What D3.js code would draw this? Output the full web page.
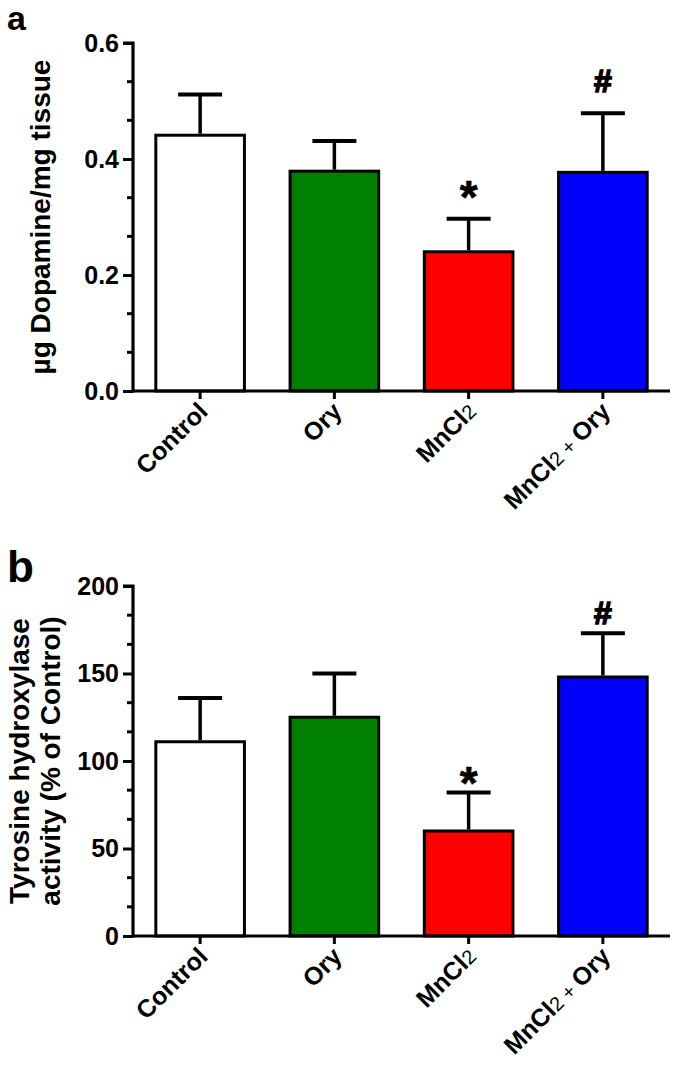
<!DOCTYPE html>
<html><head><meta charset="utf-8">
<script src="https://cdn.jsdelivr.net/npm/d3@7"></script>
<style>body{margin:0;background:#fff}svg{display:block}text{font-family:"Liberation Sans",Arial,sans-serif;font-weight:bold}</style>
</head><body>
<svg id="chart" width="685" height="1071"></svg>
<script>
const categories = ["Control", "Ory", "MnCl2", "MnCl2 + Ory"];
const colors = ["#ffffff", "#008000", "#ff0000", "#0000ff"];
const dopamineMean = [0.441, 0.379, 0.240, 0.377];
const dopamineSE = [0.070, 0.052, 0.057, 0.102];
const dopamineMarks = ["", "", "*", "#"];
const dopamineTicks = [0.0, 0.2, 0.4, 0.6];
const thMean = [111, 125, 60, 148];
const thSE = [25, 25, 22, 25];
const thMarks = ["", "", "*", "#"];
const thTicks = [0, 50, 100, 150, 200];

const svg = d3.select("#chart");

function panel(opt) {
  const g = svg.append("g");
  const x = d3.scaleBand().domain(categories).range([133, 670]).paddingInner(0.34).paddingOuter(0.17);
  const y = d3.scaleLinear().domain([0, opt.max]).range([opt.y0, opt.y1]);

  const minor = [];
  for (let i = 0; i < opt.ticks.length - 1; i++) {
    const a = opt.ticks[i], b = opt.ticks[i + 1];
    minor.push(a + (b - a) / 3, a + 2 * (b - a) / 3);
  }
  g.selectAll(".minor").data(minor).join("line")
    .attr("x1", 127).attr("x2", 133).attr("y1", d => y(d)).attr("y2", d => y(d))
    .attr("stroke", "#000").attr("stroke-width", 3);

  const yAxis = d3.axisLeft(y).tickValues(opt.ticks).tickFormat(opt.fmt).tickSize(10).tickPadding(4);
  const ya = g.append("g").attr("transform", "translate(133,0)").call(yAxis);
  ya.select(".domain").attr("stroke-width", 3.2).attr("d", `M0,${opt.y0 + 1.5}V${opt.y1}H-10`);
  ya.selectAll(".tick line").attr("stroke-width", 3);
  ya.selectAll(".tick text").attr("font-size", 25).attr("font-family", "Liberation Sans, Arial, sans-serif").attr("font-weight", "bold").attr("fill", "#000");

  g.selectAll(".bar").data(categories).join("rect")
    .attr("x", d => x(d)).attr("width", x.bandwidth())
    .attr("y", (d, i) => y(opt.mean[i])).attr("height", (d, i) => opt.y0 - y(opt.mean[i]))
    .attr("fill", (d, i) => colors[i]).attr("stroke", "#000").attr("stroke-width", 3);

  const cx = d => x(d) + x.bandwidth() / 2;
  g.selectAll(".err").data(categories).join("line")
    .attr("x1", cx).attr("x2", cx)
    .attr("y1", (d, i) => y(opt.mean[i]) - 1.5).attr("y2", (d, i) => y(opt.mean[i] + opt.se[i]))
    .attr("stroke", "#000").attr("stroke-width", 3.5);
  g.selectAll(".cap").data(categories).join("line")
    .attr("x1", d => cx(d) - 22).attr("x2", d => cx(d) + 22)
    .attr("y1", (d, i) => y(opt.mean[i] + opt.se[i])).attr("y2", (d, i) => y(opt.mean[i] + opt.se[i]))
    .attr("stroke", "#000").attr("stroke-width", 4);

  g.selectAll(".mark").data(categories).join("text")
    .attr("x", cx)
    .attr("y", (d, i) => {
      const c = y(opt.mean[i] + opt.se[i]) - opt.markOffset;
      return opt.marks[i] === "*" ? c + 26 : c + 11;
    })
    .attr("text-anchor", "middle")
    .attr("font-size", (d, i) => opt.marks[i] === "*" ? 46 : 32)
    .attr("stroke", "#000")
    .attr("stroke-width", (d, i) => opt.marks[i] === "#" ? 1.6 : 0.6)
    .text((d, i) => opt.marks[i]);

  const xAxis = d3.axisBottom(x).tickSize(8).tickFormat("");
  const xa = g.append("g").attr("transform", `translate(0,${opt.y0})`).call(xAxis);
  xa.select(".domain").attr("stroke-width", 3.2).attr("d", "M133,0H670");
  xa.selectAll(".tick line").attr("stroke-width", 3);

  const lab = g.selectAll(".xl").data(categories).join("text")
    .attr("text-anchor", "end")
    .attr("font-size", 25)
    .attr("transform", d => `translate(${cx(d) + 9},${opt.y0 + 22}) rotate(-45)`);
  lab.each(function(d) {
    const t = d3.select(this);
    if (d.startsWith("MnCl2")) {
      t.append("tspan").text("MnCl");
      t.append("tspan").attr("font-size", 20).attr("font-weight", "normal").text("2");
      if (d.length > 5) {
        t.append("tspan").attr("font-size", 20).attr("font-weight", "normal").text(" + ");
        t.append("tspan").text("Ory");
      }
    } else t.text(d);
  });

  const tt = g.append("text").attr("text-anchor", "middle").attr("font-size", 28)
    .attr("transform", `translate(${opt.titleX},${(opt.y0 + opt.y1) / 2}) rotate(-90)`);
  opt.title.forEach((line, i) => {
    tt.append("tspan").attr("x", 0).attr("dy", i === 0 ? 0 : "1.12em").text(line);
  });

  svg.append("text").attr("x", opt.lx).attr("y", opt.ly).attr("font-size", opt.lsize).text(opt.label);
}

panel({mean: dopamineMean, se: dopamineSE, marks: dopamineMarks, ticks: dopamineTicks, max: 0.6,
  y0: 391, y1: 43, fmt: d3.format(".1f"), title: ["µg Dopamine/mg tissue"], titleX: 50, markOffset: 32,
  label: "a", lx: 7, ly: 30, lsize: 34});
panel({mean: thMean, se: thSE, marks: thMarks, ticks: thTicks, max: 200,
  y0: 936, y1: 586, fmt: d3.format("d"), title: ["Tyrosine hydroxylase", "activity (% of Control)"], titleX: 29, markOffset: 20,
  label: "b", lx: 7, ly: 582, lsize: 44});
</script>
</body></html>
